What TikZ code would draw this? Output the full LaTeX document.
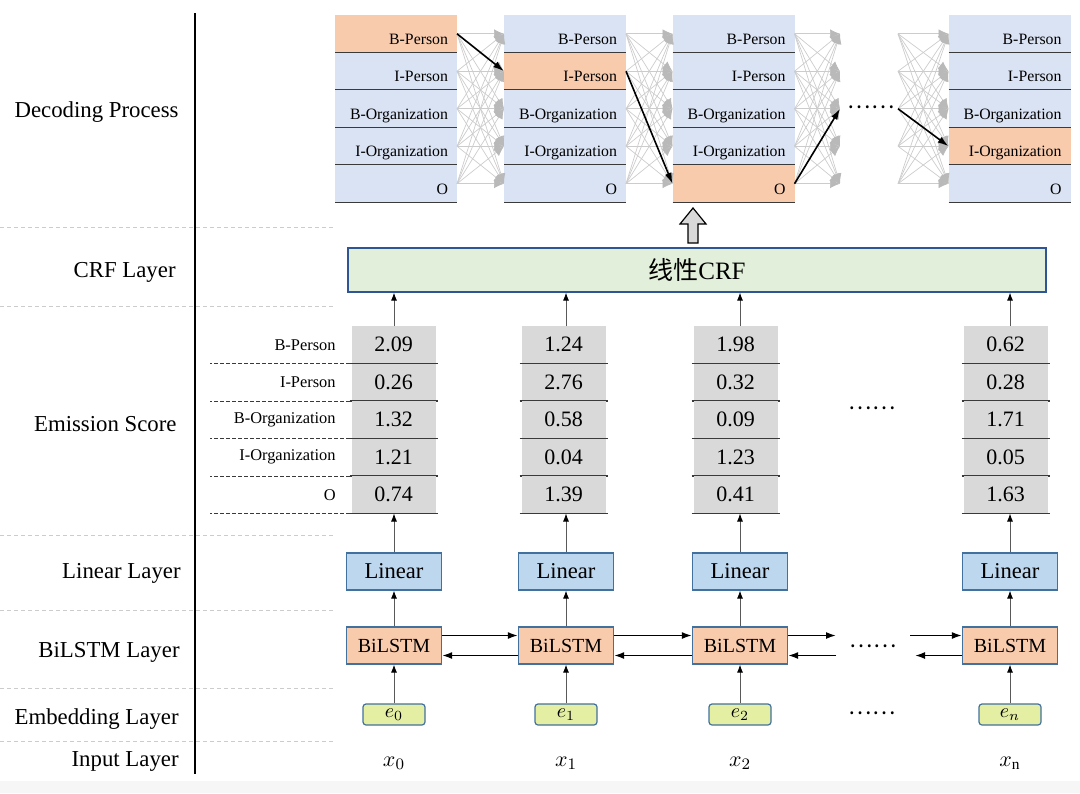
\documentclass[tikz,border=0pt]{standalone}
\usepackage{fontspec}
\setmainfont{Liberation Serif}
\newfontfamily\cjk{Noto Sans CJK SC}
\usetikzlibrary{arrows.meta}

\definecolor{tagblue}{HTML}{DAE3F3}
\definecolor{tagorange}{HTML}{F8CBAD}
\definecolor{scoregray}{HTML}{D9D9D9}
\definecolor{crfgreen}{HTML}{E2EFDA}
\definecolor{crfedge}{HTML}{2F5597}
\definecolor{linblue}{HTML}{BDD7EE}
\definecolor{embyellow}{HTML}{E5EFA3}
\definecolor{boxedge}{HTML}{41719C}
\definecolor{rulegray}{HTML}{3A3A3A}

\begin{document}
\begin{tikzpicture}[
    x=0.5pt, y=-0.5pt,
    layer/.style={anchor=east, inner xsep=0pt, font=\fontsize{11.4}{13}\selectfont},
    laysep/.style={gray!40, dash pattern=on 2pt off 1.5pt, line width=0.4pt},
    rowline/.style={rulegray, line width=0.7pt},
    tag/.style={fill=tagblue, minimum height=18.75pt, inner xsep=4.5pt, inner ysep=0pt,
        text width=52pt, align=right, text height=10.5pt, text depth=0pt, outer sep=0pt,
        font=\fontsize{7.9}{9}\selectfont,
        append after command={(\tikzlastnode.south west) edge[rowline] (\tikzlastnode.south east)}},
    score/.style={fill=scoregray, minimum width=42pt, minimum height=18.75pt, inner sep=0pt, outer sep=0pt,
        font=\fontsize{11}{13}\selectfont,
        append after command={([xshift=-1pt]\tikzlastnode.south west) edge[rowline] ([xshift=1pt]\tikzlastnode.south east)}},
    scorename/.style={anchor=east, inner sep=0pt, font=\fontsize{8.2}{10}\selectfont},
    block/.style={draw=boxedge, line width=0.6pt, minimum width=47.5pt, minimum height=18.5pt, inner sep=0pt},
    emb/.style={draw=boxedge, line width=0.6pt, fill=embyellow, rounded corners=1.5pt,
        minimum width=31pt, minimum height=10.5pt, inner sep=0pt, font=\fontsize{10}{11}\selectfont},
    inp/.style={font=\fontsize{11}{13}\selectfont},
    ellip/.style={font=\cjk\fontsize{11}{13}\selectfont, inner sep=0pt},
    feed/.style={-{Latex[length=4pt,width=3pt,color=black]}, black!65, line width=0.45pt},
    rnn/.style={-{Latex[length=5pt,width=3.5pt]}, line width=0.8pt},
    fan/.style={-{Latex[length=5pt,width=4.5pt,color=gray!55]}, gray!40, line width=0.35pt},
    best/.style={-{Latex[length=5.5pt,width=3.5pt]}, line width=0.8pt}
]
\useasboundingbox (0,0) rectangle (1080,793);
\fill[gray!7] (0,781) rectangle (1080,793);

% layer names on the left
\node[layer] (ldec) at (179,112) {Decoding Process};
\node[layer] (lcrf) at (176,272) {CRF Layer};
\node[layer] (lems) at (177,424) {Emission Score};
\node[layer] (llin) at (181,573) {Linear Layer};
\node[layer] (llstm) at (180,652) {BiLSTM Layer};
\node[layer] (lemb) at (179,719) {Embedding Layer};
\node[layer] (linp) at (179,761) {Input Layer};
\foreach \y in {227,306,535,610,688,741}
  \draw[laysep] (0,\y) -- (335,\y);
\draw[line width=0.8pt] (195,13) -- (195,774);

% decoding process
\foreach \col/\cx/\hi in {0/396/0,1/565/1,2/733.5/4,3/1009.5/3}
  \foreach \lab [count=\row from 0] in {B-Person,I-Person,B-Organization,I-Organization,O} {
    \ifnum\row=\hi \def\cellfill{tagorange}\else\def\cellfill{tagblue}\fi
    \node[tag, fill=\cellfill] (d\col\row) at (\cx,{33.75+37.5*\row}) {\mbox{\lab}};
  }
\foreach \i in {0,...,4} {
  \coordinate (pa\i) at (840,{33.75+37.5*\i});
  \coordinate (pb\i) at (898,{33.75+37.5*\i});
}
\foreach \i in {0,...,4}
  \foreach \j in {0,...,4} {
    \draw[fan] (d0\i.east) -- (d1\j.west);
    \draw[fan] (d1\i.east) -- (d2\j.west);
    \draw[fan] (d2\i.east) -- (pa\j);
    \draw[fan] (pb\i) -- (d3\j.west);
  }
\draw[best] (d00.east) -- (d11.west);
\draw[best] (d11.east) -- (d24.west);
\draw[best] (d24.east) -- (pa2);
\draw[best] (pb2) -- (d33.west);
\node[ellip] (ddots) at (871,107) {……};

% CRF layer
\node[draw=crfedge, fill=crfgreen, line width=0.6pt, minimum width=349pt, minimum height=22pt,
    font=\fontsize{12.5}{14}\selectfont] (crf) at (697,270) {{\cjk 线性}CRF};
\draw[fill=scoregray, line width=0.6pt] (688,243) -- (688,224) -- (680,224) -- (693,208)
  -- (706,224) -- (698,224) -- (698,243) -- cycle;

% emission scores
\foreach \col/\cx/\vals in {0/393.5/{2.09,0.26,1.32,1.21,0.74},1/563.5/{1.24,2.76,0.58,0.04,1.39},
    2/735.5/{1.98,0.32,0.09,1.23,0.41},3/1005.5/{0.62,0.28,1.71,0.05,1.63}}
  \foreach \v [count=\row from 0] in \vals
    \node[score] (s\col\row) at (\cx,{344.75+37.5*\row}) {\v};
\foreach \lab [count=\row from 0] in {B-Person,I-Person,B-Organization,I-Organization,O} {
  \node[scorename] (n\row) at (336,{344.75+37.5*\row}) {\lab};
  \draw[rulegray, dash pattern=on 2pt off 1pt, line width=0.5pt] ([xshift=-1pt]s0\row.south west) -- ++(-140,0);
}
\node[ellip] (sdots) at (872,408) {……};

% linear, BiLSTM and embedding
\foreach \col/\cx/\sub in {0/394/0,1/566/1,2/740/2,3/1010/n} {
  \node[block, fill=linblue, font=\fontsize{11.3}{13}\selectfont] (lin\col) at (\cx,571.5) {Linear};
  \node[block, fill=tagorange, font=\fontsize{10}{12}\selectfont] (lstm\col) at (\cx,645.5) {BiLSTM};
  \node[emb] (emb\col) at (\cx,714.5) {$e_{\sub}$};
}
\node[inp] (x0) at (394,763) {$x_0$};
\node[inp] (x1) at (566,763) {$x_1$};
\node[inp] (x2) at (740,763) {$x_2$};
\node[inp] (x3) at (1010,763) {$x_\mathrm{n}$};
\node[ellip] (ldots) at (873,646) {……};
\node[ellip] (edots) at (872,713) {……};

\foreach \col in {0,...,3} {
  \draw[feed] (emb\col) -- (lstm\col);
  \draw[feed] (lstm\col) -- (lin\col);
  \draw[feed] (lin\col) -- (lin\col |- s\col4.south);
  \draw[feed] (lin\col |- s\col0.north) -- (lin\col |- crf.south);
}

\draw[rnn] ([yshift=5pt]lstm0.east) -- ([yshift=5pt]lstm1.west);
\draw[rnn] ([yshift=-5pt]lstm1.west) -- ([yshift=-5pt]lstm0.east);
\draw[rnn] ([yshift=5pt]lstm1.east) -- ([yshift=5pt]lstm2.west);
\draw[rnn] ([yshift=-5pt]lstm2.west) -- ([yshift=-5pt]lstm1.east);
\coordinate (fa) at (836,635.5);
\coordinate (ba) at (836,655.5);
\coordinate (fb) at (910,635.5);
\coordinate (bb) at (915,655.5);
\draw[rnn] ([yshift=5pt]lstm2.east) -- (fa);
\draw[rnn] (ba) -- ([yshift=-5pt]lstm2.east);
\draw[rnn] (fb) -- ([yshift=5pt]lstm3.west);
\draw[rnn] ([yshift=-5pt]lstm3.west) -- (bb);
\end{tikzpicture}
\end{document}
